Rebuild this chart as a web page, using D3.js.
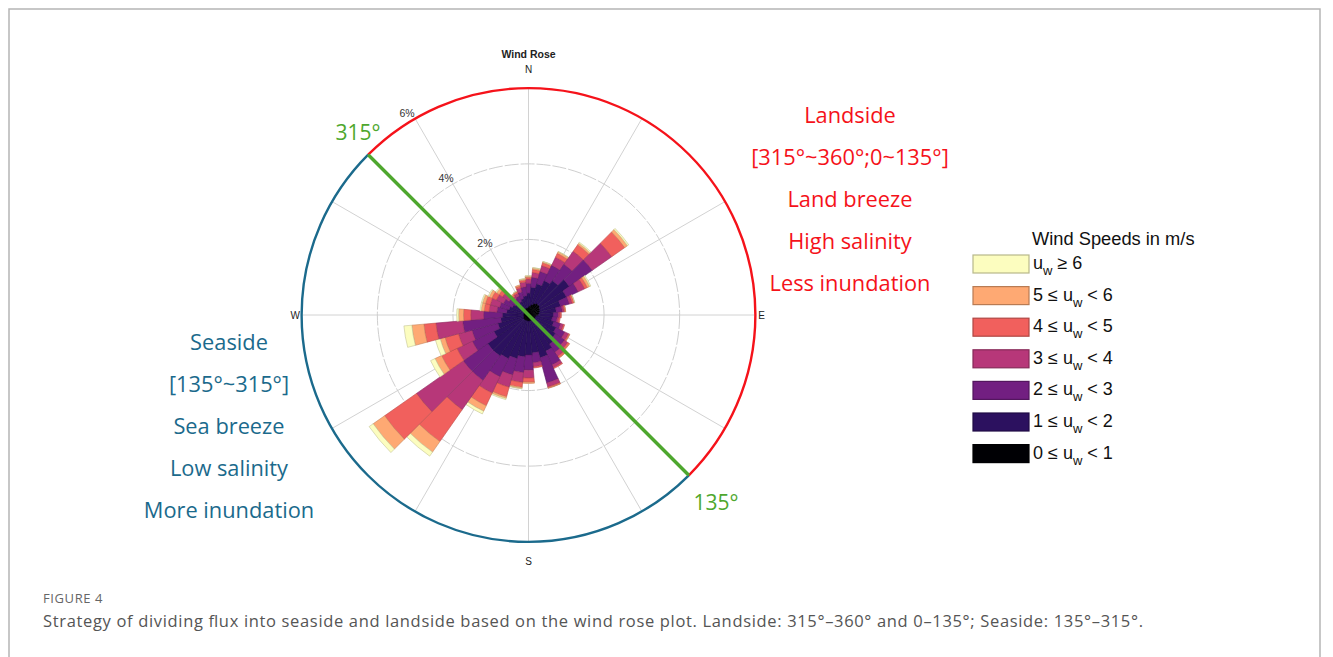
<!DOCTYPE html>
<html>
<head>
<meta charset="utf-8">
<script src="https://cdn.jsdelivr.net/npm/d3@7"></script>
<style>
  html, body { margin: 0; padding: 0; background: #fff; }
  svg { display: block; }
</style>
</head>
<body>
<svg id="fig" width="1333" height="657"></svg>
<script>
// Direction sectors (degrees, clockwise from north), 10° wide
const directions = [0,10,20,30,40,50,60,70,80,90,100,110,120,130,140,150,160,170,
                    180,190,200,210,220,230,240,250,260,270,280,290,300,310,320,330,340,350];

// Frequency (%) of each wind-speed class per direction sector
const freq0_1 = [0.21,0.24,0.29,0.34,0.37,0.37,0.34,0.32,0.29,0.26,0.21,0.19,0.19,0.16,0.16,0.16,0.16,0.16,
                 0.16,0.16,0.16,0.16,0.16,0.16,0.16,0.13,0.13,0.13,0.13,0.13,0.13,0.13,0.13,0.16,0.19,0.19];
const freq1_2 = [0.37,0.50,0.56,0.66,0.74,0.95,0.77,0.56,0.45,0.40,0.42,0.50,0.61,0.71,0.79,0.90,1.01,0.85,
                 0.90,0.95,1.03,1.11,1.16,1.16,0.85,0.71,0.61,0.56,0.45,0.40,0.34,0.29,0.24,0.24,0.26,0.32];
const freq2_3 = [0.26,0.26,0.34,0.45,0.53,0.74,0.34,0.24,0.16,0.13,0.13,0.19,0.26,0.29,0.26,0.40,0.69,0.26,
                 0.40,0.42,0.45,0.53,0.79,0.79,0.63,0.71,1.01,0.50,0.26,0.26,0.26,0.21,0.16,0.16,0.19,0.24];
const freq3_4 = [0.11,0.13,0.16,0.24,0.42,0.63,0.19,0.08,0.05,0.05,0.05,0.08,0.11,0.11,0.13,0.08,0.11,0.11,
                 0.21,0.26,0.34,0.48,0.95,1.51,0.45,0.37,0.71,0.34,0.21,0.26,0.21,0.21,0.08,0.08,0.11,0.13];
const freq4_5 = [0.05,0.08,0.08,0.11,0.21,0.42,0.08,0.05,0.03,0.03,0.03,0.03,0.03,0.05,0.05,0.03,0.03,0.03,
                 0.11,0.13,0.26,0.37,1.03,1.03,0.45,0.37,0.32,0.19,0.13,0.13,0.13,0.11,0.05,0.05,0.05,0.05];
const freq5_6 = [0.03,0.04,0.03,0.05,0.05,0.09,0.07,0.01,0.01,0.00,0.00,0.00,0.01,0.01,0.01,0.00,0.01,0.00,
                 0.03,0.03,0.05,0.16,0.34,0.37,0.19,0.13,0.32,0.13,0.08,0.08,0.08,0.08,0.03,0.01,0.03,0.03];
const freq6p  = [0.01,0.01,0.01,0.01,0.03,0.04,0.03,0.01,0.00,0.00,0.00,0.00,0.00,0.00,0.00,0.00,0.00,0.00,
                 0.00,0.01,0.03,0.08,0.13,0.13,0.13,0.13,0.21,0.05,0.03,0.03,0.03,0.03,0.00,0.01,0.00,0.01];

const speedSeries = [freq0_1, freq1_2, freq2_3, freq3_4, freq4_5, freq5_6, freq6p];
const speedColors = ["#000004", "#2c115f", "#721f81", "#b73779", "#f1605d", "#fea973", "#fcfdbf"];
// legend rows, top to bottom: [prefix, suffix] around "u_w"
const legendRows = [["", " \u2265 6"], ["5 \u2264 ", " < 6"], ["4 \u2264 ", " < 5"], ["3 \u2264 ", " < 4"],
                    ["2 \u2264 ", " < 3"], ["1 \u2264 ", " < 2"], ["0 \u2264 ", " < 1"]];
const radialTicks = [2, 4, 6];
const compass = [["N", 0, 19], ["E", 90, 6.5], ["S", 180, 20], ["W", 270, 6.5]];
const landLines = ["Landside", "[315\u00b0~360\u00b0;0~135\u00b0]", "Land breeze", "High salinity", "Less inundation"];
const seaLines = ["Seaside", "[135\u00b0~315\u00b0]", "Sea breeze", "Low salinity", "More inundation"];
const splitAngles = [315, 135];

const svg = d3.select("#fig");
const cx = 528.5, cy = 315;
const rMax = 226.7;
const r = d3.scaleLinear().domain([0, 6]).range([0, rMax]);
const rad = d => d * Math.PI / 180;
const px = (deg, rr) => cx + rr * Math.sin(rad(deg));
const py = (deg, rr) => cy - rr * Math.cos(rad(deg));

// page frame
svg.append("rect").attr("x", 9).attr("y", 9).attr("width", 1311).attr("height", 700)
  .attr("fill", "none").attr("stroke", "#b5b5b5").attr("stroke-width", 1.5);

const g = svg.append("g");

// grid: spokes every 30°
d3.range(0, 360, 30).forEach(a => {
  g.append("line").attr("x1", cx).attr("y1", cy)
    .attr("x2", px(a, rMax)).attr("y2", py(a, rMax))
    .attr("stroke", "#d2d2d2").attr("stroke-width", 1);
});
// grid: dashed rings
radialTicks.filter(t => t < 6).forEach(t => {
  g.append("circle").attr("cx", cx).attr("cy", cy).attr("r", r(t))
    .attr("fill", "none").attr("stroke", "#cfcfcf").attr("stroke-width", 1)
    .attr("stroke-dasharray", "14,2");
});

// stacked sector bars
const arc = d3.arc();
const bars = g.append("g");
directions.forEach((dir, i) => {
  let cum = 0;
  speedSeries.forEach((series, k) => {
    const v = series[i];
    if (v <= 0) return;
    const inner = cum, outer = cum + v;
    cum = outer;
    const fill = speedColors[k];
    bars.append("path")
      .attr("d", arc({ innerRadius: r(inner), outerRadius: r(outer),
                       startAngle: rad(dir - 5), endAngle: rad(dir + 5) }))
      .attr("transform", `translate(${cx},${cy})`)
      .attr("fill", fill)
      .attr("stroke", d3.color(fill).darker(0.7))
      .attr("stroke-width", 0.6)
      .attr("stroke-linejoin", "round");
  });
});

// outer ring split into landside (red) and seaside (blue)
const ringArc = d3.arc().innerRadius(rMax).outerRadius(rMax);
g.append("path")
  .attr("d", ringArc({ startAngle: rad(-45), endAngle: rad(135) }))
  .attr("transform", `translate(${cx},${cy})`)
  .attr("fill", "none").attr("stroke", "#f5121a").attr("stroke-width", 2.4);
g.append("path")
  .attr("d", ringArc({ startAngle: rad(135), endAngle: rad(315) }))
  .attr("transform", `translate(${cx},${cy})`)
  .attr("fill", "none").attr("stroke", "#1b6a8c").attr("stroke-width", 2.4);

// dividing line 315° – 135°
g.append("line")
  .attr("x1", px(splitAngles[0], rMax)).attr("y1", py(splitAngles[0], rMax))
  .attr("x2", px(splitAngles[1], rMax)).attr("y2", py(splitAngles[1], rMax))
  .attr("stroke", "#4ea72e").attr("stroke-width", 3.4);

// radial tick labels along 330°
radialTicks.forEach(t => {
  g.append("text").attr("x", px(329, r(t) + 9)).attr("y", py(329, r(t) + 9))
    .attr("text-anchor", "middle").attr("dominant-baseline", "central")
    .attr("font-family", "Liberation Sans, Arial, sans-serif").attr("font-size", 10.5)
    .attr("fill", "#333").text(t + "%");
});

// compass labels
compass.forEach(([lab, a, off]) => {
  g.append("text").attr("x", px(a, rMax + off)).attr("y", py(a, rMax + off))
    .attr("text-anchor", "middle").attr("dominant-baseline", "central")
    .attr("font-family", "Liberation Sans, Arial, sans-serif").attr("font-size", 10)
    .attr("fill", "#222").text(lab);
});

// title
svg.append("text").attr("x", cx).attr("y", 58).attr("text-anchor", "middle")
  .attr("font-family", "Liberation Sans, Arial, sans-serif").attr("font-size", 10.5)
  .attr("font-weight", "bold").attr("fill", "#222").text("Wind Rose");

// angle annotations
const annFont = "Open Sans, Noto Sans, sans-serif";
svg.append("text").attr("x", 358).attr("y", 140).attr("text-anchor", "middle")
  .attr("font-family", annFont).attr("font-size", 21).attr("fill", "#4ea72e").text(splitAngles[0] + "\u00b0");
svg.append("text").attr("x", 716).attr("y", 510).attr("text-anchor", "middle")
  .attr("font-family", annFont).attr("font-size", 21).attr("fill", "#4ea72e").text(splitAngles[1] + "\u00b0");

landLines.forEach((t, i) => {
  svg.append("text").attr("x", 850).attr("y", 123 + i * 42).attr("text-anchor", "middle")
    .attr("font-family", annFont).attr("font-size", 21.8).attr("fill", "#f5121a").text(t);
});
seaLines.forEach((t, i) => {
  svg.append("text").attr("x", 229).attr("y", 350 + i * 42).attr("text-anchor", "middle")
    .attr("font-family", annFont).attr("font-size", 21.8).attr("fill", "#1b6a8c").text(t);
});

// legend
const lg = svg.append("g");
const legFont = "Liberation Sans, Arial, sans-serif";
lg.append("text").attr("x", 1032).attr("y", 245)
  .attr("font-family", legFont).attr("font-size", 18.3).attr("fill", "#111").text("Wind Speeds in m/s");
legendRows.forEach((row, j) => {
  const k = speedColors.length - 1 - j;
  const y0 = 255 + j * 31.6;
  lg.append("rect").attr("x", 973).attr("y", y0).attr("width", 56).attr("height", 18)
    .attr("fill", speedColors[k]).attr("stroke", d3.color(speedColors[k]).darker(0.9))
    .attr("stroke-width", 1.2);
  const t = lg.append("text").attr("x", 1033).attr("y", y0 + 14)
    .attr("font-family", legFont).attr("font-size", 18).attr("fill", "#111");
  t.append("tspan").text(row[0] + "u");
  t.append("tspan").attr("dy", 6).attr("font-size", 13).text("w");
  t.append("tspan").attr("dy", -6).text(row[1]);
});

// caption
svg.append("text").attr("x", 43).attr("y", 603)
  .attr("font-family", "Open Sans, Noto Sans, sans-serif").attr("font-size", 13)
  .attr("letter-spacing", 0.6).attr("fill", "#666").text("FIGURE 4");
svg.append("text").attr("x", 43).attr("y", 627)
  .attr("font-family", "Open Sans, Noto Sans, sans-serif").attr("font-size", 16.5)
  .attr("textLength", 1100).attr("lengthAdjust", "spacing")
  .attr("fill", "#555")
  .text("Strategy of dividing flux into seaside and landside based on the wind rose plot. Landside: 315\u00b0\u2013360\u00b0 and 0\u2013135\u00b0; Seaside: 135\u00b0\u2013315\u00b0.");
</script>
</body>
</html>
